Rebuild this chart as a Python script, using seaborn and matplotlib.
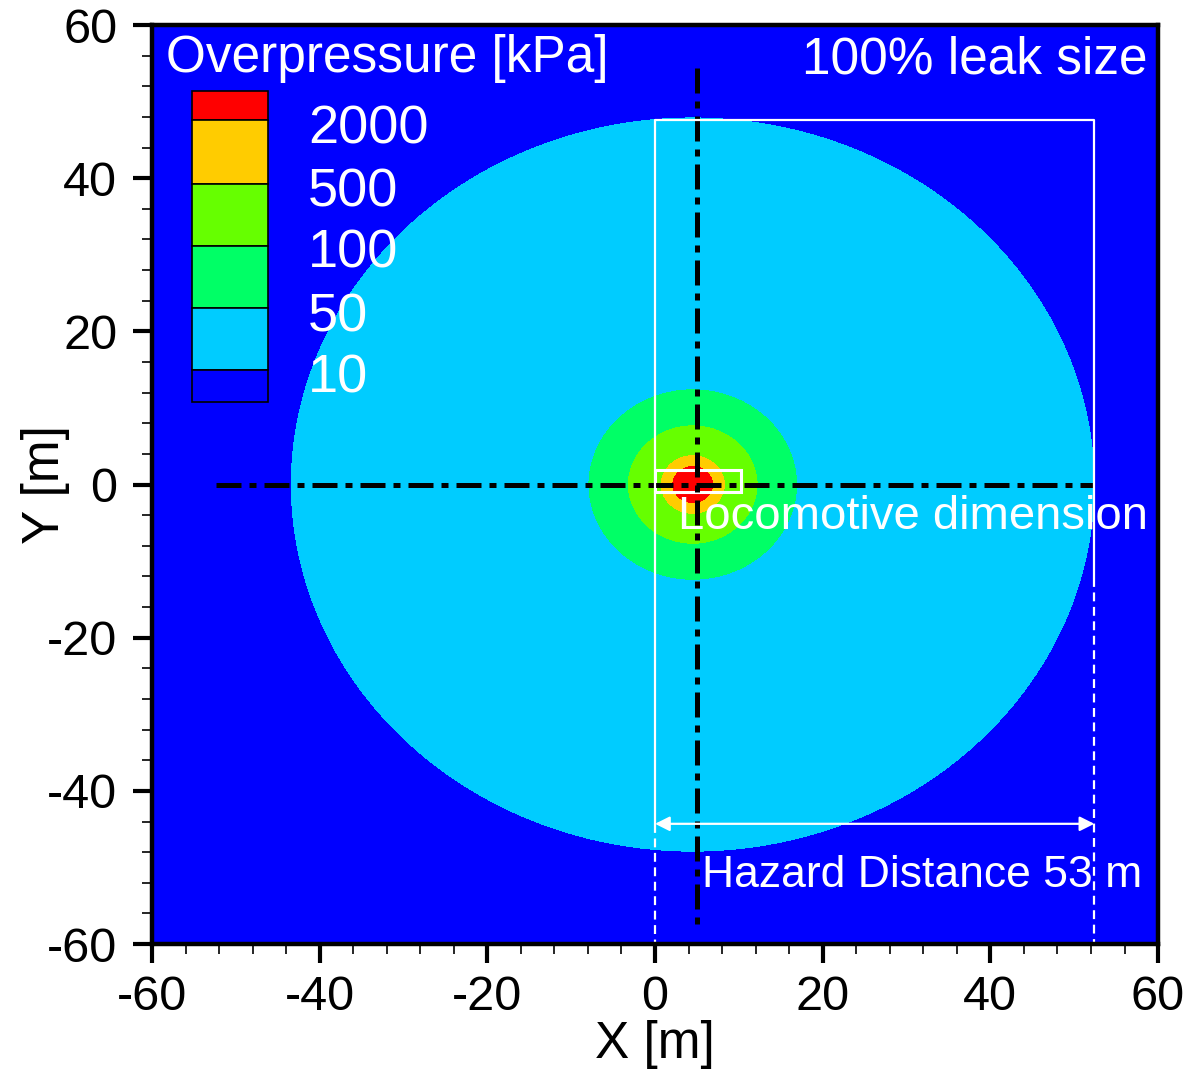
import numpy as np
import pandas as pd
import seaborn as sns
import matplotlib.pyplot as plt
from matplotlib.patches import Rectangle
from matplotlib.ticker import MultipleLocator

# Overpressure zones (innermost first)
levels_kpa = [2000, 500, 100, 50, 10]
zone_radius = [2.5, 3.9, 7.8, 12.5, 48.0]   # m
zone_colors = ["#FF0000", "#FFCC00", "#66FF00", "#00FF66", "#00CCFF"]
background_color = "#0000FF"
center_x, center_y = 4.5, 0.0

# locomotive footprint and hazard box
loco_x = [0.0, 10.3]
loco_y = [-1.0, 1.9]
hazard_x = [0.0, 52.4]
hazard_top = 47.6
arrow_y = -44.3

# centre lines
h_line = pd.DataFrame({"x": [-52.4, 52.3], "y": [0.0, 0.0]})
v_line = pd.DataFrame({"x": [5.0, 5.0], "y": [54.4, -58.0]})

sns.set_style("ticks")
plt.rcParams["font.family"] = ["Liberation Sans", "DejaVu Sans"]
plt.rcParams["axes.unicode_minus"] = False
plt.rcParams["text.color"] = "black"
plt.rcParams["axes.labelcolor"] = "black"
plt.rcParams["xtick.color"] = "black"
plt.rcParams["ytick.color"] = "black"

fig = plt.figure(figsize=(11.93, 10.74), dpi=100)
ax = fig.add_axes([0.1274, 0.1210, 0.8433, 0.8557])

# distance field -> filled contours
gx = np.linspace(-60, 60, 900)
gy = np.linspace(-60, 60, 900)
X, Y = np.meshgrid(gx, gy)
R = np.hypot(X - center_x, Y - center_y)
ax.contourf(X, Y, R, levels=[0] + zone_radius + [1000],
            colors=zone_colors + [background_color])

# centre lines (dash-dot)
dashdot = (0, (5, 1.6, 1.4, 1.6))
for df in (h_line, v_line):
    sns.lineplot(data=df, x="x", y="y", sort=False, estimator=None,
                 color="black", lw=3.6, linestyle=dashdot, ax=ax)

# locomotive rectangle
ax.add_patch(Rectangle((loco_x[0], loco_y[0]), loco_x[1] - loco_x[0],
                       loco_y[1] - loco_y[0], fill=False, ec="white", lw=2.2))

# hazard box: solid part then dashed down to the axis
ax.plot([hazard_x[0], hazard_x[0], hazard_x[1], hazard_x[1]],
        [arrow_y, hazard_top, hazard_top, -12.2], color="white", lw=1.6)
ax.plot([hazard_x[1], hazard_x[1]], [-12.2, -60], color="white", lw=1.6,
        linestyle=(0, (4, 2.5)))
ax.plot([hazard_x[0], hazard_x[0]], [arrow_y, -60], color="white", lw=1.6,
        linestyle=(0, (4, 2.5)))
ax.annotate("", xy=(hazard_x[1], arrow_y), xytext=(hazard_x[0], arrow_y),
            arrowprops=dict(arrowstyle="<|-|>", color="white", lw=1.6,
                            mutation_scale=22, shrinkA=0, shrinkB=0))

# texts
ax.text(-58.3, 55.6, "Overpressure [kPa]", color="white", fontsize=37,
        ha="left", va="center")
ax.text(58.8, 55.4, "100% leak size", color="white", fontsize=37,
        ha="right", va="center")
ax.text(2.7, -4.2, "Locomotive dimension", color="white", fontsize=34,
        ha="left", va="center")
ax.text(5.6, -51.0, "Hazard Distance 53 m", color="white", fontsize=32,
        ha="left", va="center")

# legend boxes (axes fraction)
bounds = [0.9282, 0.8966, 0.8270, 0.7595, 0.6921, 0.6246, 0.5898]
box_colors = ["#FF0000", "#FFCC00", "#66FF00", "#00FF66", "#00CCFF", background_color]
for i, c in enumerate(box_colors):
    ax.add_patch(Rectangle((0.0398, bounds[i + 1]), 0.0755, bounds[i] - bounds[i + 1],
                           transform=ax.transAxes, fc=c, ec="black", lw=1.2))
label_y = [0.886, 0.818, 0.751, 0.682, 0.615]
for lab, yy in zip(levels_kpa, label_y):
    ax.text(0.155, yy, str(lab), transform=ax.transAxes, color="white",
            fontsize=39, ha="left", va="center")

ax.set_xlim(-60, 60)
ax.set_ylim(-60, 60)
ax.set_xticks(np.arange(-60, 61, 20))
ax.set_yticks(np.arange(-60, 61, 20))
ax.xaxis.set_minor_locator(MultipleLocator(4))
ax.yaxis.set_minor_locator(MultipleLocator(4))
ax.tick_params(which="major", direction="out", length=14, width=3,
               labelsize=35, pad=8)
ax.tick_params(axis="y", which="major", pad=11)
ax.tick_params(which="minor", direction="out", length=7, width=1.2)
ax.set_xlabel("X [m]", fontsize=37, labelpad=0)
ax.set_ylabel("Y [m]", fontsize=37)
ax.yaxis.label.set_verticalalignment("center")
ax.yaxis.set_label_coords(-0.106, 0.5)
for s in ax.spines.values():
    s.set_linewidth(3.2)
    s.set_color("black")

fig.savefig("out.png", dpi=100, facecolor="white")
